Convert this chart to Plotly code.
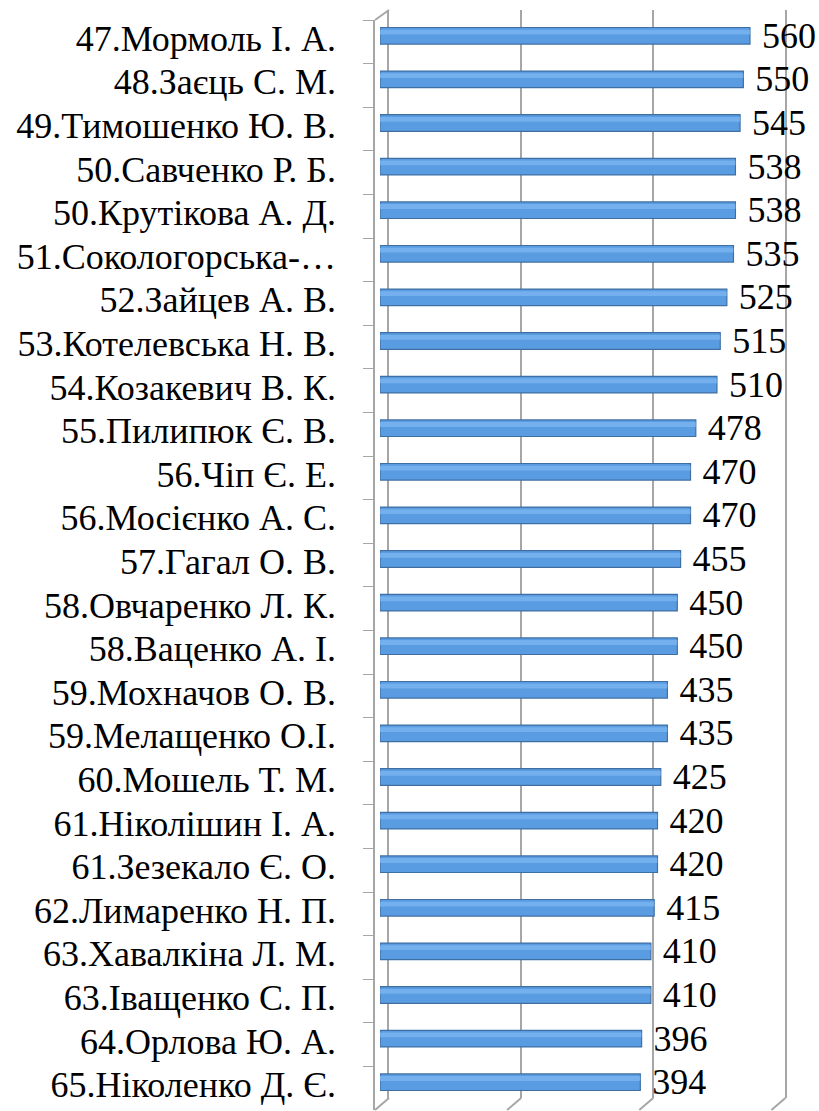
import plotly.graph_objects as go

names = [
    "47.Мормоль І. А.", "48.Заєць С. М.", "49.Тимошенко Ю. В.", "50.Савченко Р. Б.",
    "50.Крутікова А. Д.", "51.Сокологорська-…", "52.Зайцев А. В.", "53.Котелевська Н. В.",
    "54.Козакевич В. К.", "55.Пилипюк Є. В.", "56.Чіп Є. Е.", "56.Мосієнко А. С.",
    "57.Гагал О. В.", "58.Овчаренко Л. К.", "58.Ваценко А. І.", "59.Мохначов О. В.",
    "59.Мелащенко О.І.", "60.Мошель Т. М.", "61.Ніколішин І. А.", "61.Зезекало Є. О.",
    "62.Лимаренко Н. П.", "63.Хавалкіна Л. М.", "63.Іващенко С. П.", "64.Орлова Ю. А.",
    "65.Ніколенко Д. Є.",
]
scores = [560, 550, 545, 538, 538, 535, 525, 515, 510, 478, 470, 470, 455, 450, 450,
          435, 435, 425, 420, 420, 415, 410, 410, 396, 394]
x_ticks = [0, 200, 400, 600]

FONT = "Liberation Serif"
GRID = "#A6A6A6"
BAR = "#5A9CE2"
BAR_EDGE = "#3F6FA2"
HILITE = "#7DB7F0"

W, H = 819, 1111

def xd(a, b):
    return [a / W, b / W]

def yd(top, bottom):
    return [1 - bottom / H, 1 - top / H]

FX0, FW = 375, 396.4          # front plane
FY0, FY1 = 20, 1110
BX0, BY0, BY1 = 389, 10, 1098  # back wall

fig = go.Figure()

# back wall
fig.add_trace(go.Scatter(x=scores, y=names, mode="markers", marker=dict(opacity=0),
                         hoverinfo="skip", showlegend=False, xaxis="x", yaxis="y"))
# bars
fig.add_trace(go.Bar(x=scores, y=names, orientation="h", width=0.38,
                     marker=dict(color=BAR, line=dict(color=BAR_EDGE, width=1.2)),
                     texttemplate="\u00a0%{x}", textposition="outside",
                     textfont=dict(family=FONT, size=36, color="black"),
                     constraintext="none", cliponaxis=False,
                     showlegend=False, xaxis="x2", yaxis="y2"))
fig.add_trace(go.Bar(x=scores, y=names, orientation="h", width=0.11, offset=-0.14,
                     marker=dict(color=HILITE, line=dict(width=0)), opacity=0.75,
                     hoverinfo="skip", showlegend=False, xaxis="x2", yaxis="y2"))
# front plane (axis line + tick marks)
fig.add_trace(go.Scatter(x=scores, y=names, mode="markers", marker=dict(opacity=0),
                         hoverinfo="skip", showlegend=False, xaxis="x3", yaxis="y3"))
# category labels
fig.add_trace(go.Scatter(x=[1] * len(names), y=names, mode="text", text=names,
                         textposition="middle left",
                         textfont=dict(family=FONT, size=36, color="black"),
                         cliponaxis=False, hoverinfo="skip", showlegend=False,
                         xaxis="x4", yaxis="y3"))

cat_range = [len(names) - 0.5, -0.5]

fig.update_layout(
    width=W, height=H,
    margin=dict(l=0, r=0, t=0, b=0, pad=0),
    paper_bgcolor="white", plot_bgcolor="rgba(0,0,0,0)",
    barmode="overlay",
    font=dict(family=FONT, size=36, color="black"),
    xaxis=dict(domain=xd(BX0, BX0 + FW), range=[0, 600], tickvals=x_ticks, showgrid=True,
               gridcolor=GRID, gridwidth=2, zeroline=False, showticklabels=False,
               ticks="", showline=False, anchor="y"),
    yaxis=dict(domain=yd(BY0, BY1), range=cat_range, type="category", showgrid=False,
               showticklabels=False, ticks="", showline=True, mirror=True,
               linecolor=GRID, linewidth=2, zeroline=False, anchor="x"),
    xaxis2=dict(domain=xd(FX0 + 5, FX0 + 5 + FW), range=[0, 600], visible=False,
                anchor="y2"),
    yaxis2=dict(domain=yd(FY0 - 6, FY1 - 6), range=cat_range, type="category",
                visible=False, anchor="x2"),
    xaxis3=dict(domain=xd(FX0, FX0 + FW), range=[0, 600], visible=False, anchor="y3"),
    yaxis3=dict(domain=yd(FY0, FY1), range=cat_range, type="category", showgrid=False,
                showline=True, linecolor=GRID, linewidth=2, ticks="outside",
                tickson="boundaries", ticklen=10, tickcolor=GRID, tickwidth=1,
                showticklabels=False, anchor="x3", zeroline=False),
    xaxis4=dict(domain=xd(0, 336), range=[0, 1], visible=False, anchor="y3"),
)

shapes = [dict(type="line", xref="paper", yref="paper",
               x0=FX0 / W, y0=1 - FY0 / H, x1=BX0 / W, y1=1 - BY0 / H,
               line=dict(color=GRID, width=2))]
for v in x_ticks:
    xb = (BX0 + v * FW / 600) / W
    xf = (FX0 + v * FW / 600) / W
    shapes.append(dict(type="line", xref="paper", yref="paper",
                       x0=xb, y0=1 - BY1 / H, x1=xf, y1=1 - FY1 / H,
                       line=dict(color=GRID, width=2)))
fig.update_layout(shapes=shapes)

fig.write_html("out.html", config={"displayModeBar": False},
               post_script="document.body.style.margin='0';document.body.style.padding='0';")
